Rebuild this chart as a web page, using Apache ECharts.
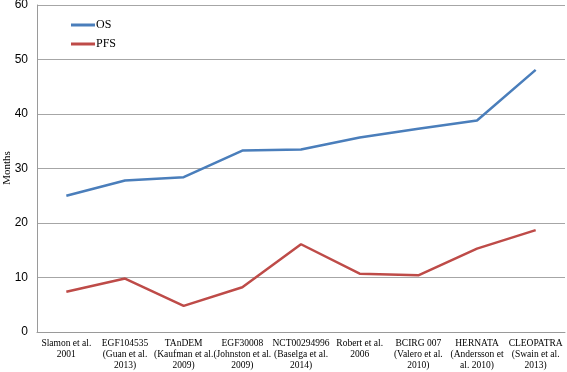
<!DOCTYPE html>
<html>
<head>
<meta charset="utf-8">
<script src="https://cdn.jsdelivr.net/npm/echarts@6/dist/echarts.min.js"></script>
<style>
  html, body { margin: 0; padding: 0; background: #fff; }
  #chart { width: 567px; height: 372px; }
</style>
</head>
<body>
<div id="chart"></div>
<script>
// trial names shown on the x axis
const categories = [
  "Slamon et al.\n2001",
  "EGF104535\n(Guan et al.\n2013)",
  "TAnDEM\n(Kaufman et al.\n2009)",
  "EGF30008\n(Johnston et al.\n2009)",
  "NCT00294996\n(Baselga et al.\n2014)",
  "Robert et al.\n2006",
  "BCIRG 007\n(Valero et al.\n2010)",
  "HERNATA\n(Andersson et\nal. 2010)",
  "CLEOPATRA\n(Swain et al.\n2013)"
];
const osValues = [25.0, 27.8, 28.4, 33.3, 33.5, 35.7, 37.3, 38.8, 48.1];
const pfsValues = [7.4, 9.8, 4.8, 8.2, 16.1, 10.7, 10.4, 15.3, 18.7];

const chart = echarts.init(document.getElementById("chart"));
const serif = "Liberation Serif";

chart.setOption({
  animation: false,
  grid: { left: 37, right: 2, top: 5, bottom: 40, containLabel: false, outerBoundsMode: "none" },
  // y axis title, placed by hand because the axis name got pushed off the page
  graphic: [
    {
      type: "text",
      x: 7,
      y: 168,
      rotation: Math.PI / 2,
      style: {
        text: "Months",
        fontFamily: serif,
        fontSize: 11,
        fill: "#000",
        align: "center",
        verticalAlign: "middle"
      }
    }
  ],
  legend: {
    orient: "vertical",
    left: 66,
    top: 14,
    itemGap: 7,
    itemWidth: 24,
    itemHeight: 3,
    icon: "rect",
    textStyle: { fontFamily: serif, fontSize: 12, color: "#000", padding: [0, 0, 0, -4] },
    data: ["OS", "PFS"]
  },
  xAxis: {
    type: "category",
    data: categories,
    boundaryGap: true,
    axisLine: { lineStyle: { color: "#9a9a9a", width: 1 } },
    axisTick: { show: false },
    axisLabel: {
      interval: 0,
      margin: 6,
      fontFamily: serif,
      fontSize: 9.5,
      lineHeight: 11,
      color: "#000",
      hideOverlap: false
    }
  },
  yAxis: {
    type: "value",
    min: 0,
    max: 60,
    interval: 10,
    axisLine: { show: true, lineStyle: { color: "#9a9a9a", width: 1 } },
    axisTick: { show: false },
    axisLabel: { fontFamily: "Liberation Sans", fontSize: 12, color: "#000", margin: 9 },
    splitLine: { lineStyle: { color: "#a6a6a6", width: 1 } }
  },
  series: [
    {
      name: "OS",
      type: "line",
      data: osValues,
      symbol: "none",
      lineStyle: { color: "#4a7ebb", width: 2.5 },
      itemStyle: { color: "#4a7ebb" }
    },
    {
      name: "PFS",
      type: "line",
      data: pfsValues,
      symbol: "none",
      lineStyle: { color: "#be4b48", width: 2.5 },
      itemStyle: { color: "#be4b48" }
    }
  ]
});
</script>
</body>
</html>
